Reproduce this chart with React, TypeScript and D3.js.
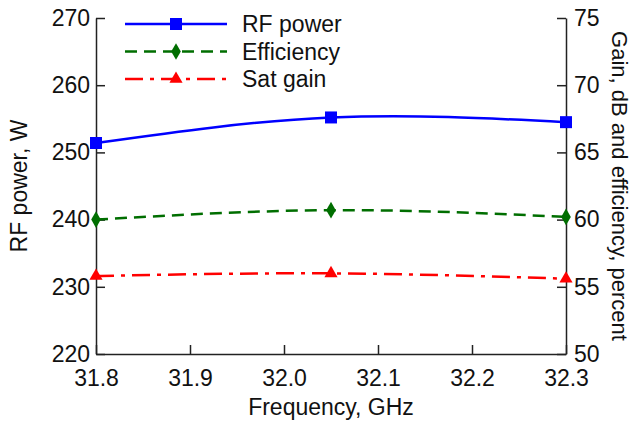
import React, { useEffect, useRef } from "react";
import * as d3 from "d3";

const freq = [31.8, 32.05, 32.3];
const rfPower = [251.4, 255.2, 254.5];
const efficiency = [60.0, 60.7, 60.2];
const satGain = [55.8, 56.0, 55.6];
const xTicks = [31.8, 31.9, 32.0, 32.1, 32.2, 32.3];
const leftTicks = [220, 230, 240, 250, 260, 270];
const rightTicks = [50, 55, 60, 65, 70, 75];

const App = () => {
  const ref = useRef<SVGSVGElement | null>(null);

  useEffect(() => {
    if (!ref.current) return;
    const svg = d3.select(ref.current);
    svg.selectAll("*").remove();

    const margin = { top: 18, right: 67, bottom: 69, left: 96 };
    const width = 633;
    const height = 423;
    const fs = 23;

    const x = d3.scaleLinear().domain([31.8, 32.3]).range([margin.left, width - margin.right]);
    const yL = d3.scaleLinear().domain([220, 270]).range([height - margin.bottom, margin.top]);
    const yR = d3.scaleLinear().domain([50, 75]).range([height - margin.bottom, margin.top]);

    const font = "Liberation Sans, Arial, sans-serif";
    const axisColor = "#222";

    // axes, ticks pointing inward
    const bx = svg.append("g")
      .attr("transform", `translate(0, ${height - margin.bottom})`)
      .call(d3.axisBottom(x).tickValues(xTicks).tickSize(-9).tickPadding(16).tickSizeOuter(0).tickFormat(d3.format(".1f")));
    const ly = svg.append("g")
      .attr("transform", `translate(${margin.left}, 0)`)
      .call(d3.axisLeft(yL).tickValues(leftTicks).tickSize(-9).tickPadding(6).tickSizeOuter(0));
    const ry = svg.append("g")
      .attr("transform", `translate(${width - margin.right}, 0)`)
      .call(d3.axisRight(yR).tickValues(rightTicks).tickSize(-9).tickPadding(8).tickSizeOuter(0));

    [bx, ly, ry].forEach((a) => {
      a.select(".domain").attr("stroke", axisColor).attr("stroke-width", 1.5);
      a.selectAll(".tick line").attr("stroke", axisColor).attr("stroke-width", 1.5);
      a.selectAll(".tick text").attr("font-family", font).attr("font-size", fs).attr("fill", "#111");
    });

    // axis titles
    const midY = (margin.top + height - margin.bottom) / 2;
    svg.append("text")
      .attr("x", (margin.left + width - margin.right) / 2)
      .attr("y", 415)
      .attr("text-anchor", "middle")
      .attr("font-family", font)
      .attr("font-size", fs)
      .attr("fill", "#111")
      .text("Frequency, GHz");
    svg.append("text")
      .attr("transform", `translate(27, ${midY}) rotate(-90)`)
      .attr("text-anchor", "middle")
      .attr("font-family", font)
      .attr("font-size", fs)
      .attr("fill", "#111")
      .text("RF power, W");
    svg.append("text")
      .attr("transform", `translate(612, ${midY}) rotate(90)`)
      .attr("text-anchor", "middle")
      .attr("font-family", font)
      .attr("font-size", 22)
      .attr("fill", "#111")
      .text("Gain, dB and efficiency, percent");

    const series = [
      { name: "RF power", values: rfPower, y: yL, color: "#0000ff", dash: "none", marker: d3.symbolSquare, size: 144 },
      { name: "Efficiency", values: efficiency, y: yR, color: "#006e00", dash: "12,7", marker: d3.symbolDiamond, size: 80 },
      { name: "Sat gain", values: satGain, y: yR, color: "#ff0000", dash: "18,7,4,7", marker: d3.symbolTriangle, size: 75 },
    ];

    series.forEach((s) => {
      const pts: [number, number][] = freq.map((f, i) => [x(f), s.y(s.values[i])]);
      svg.append("path")
        .attr("d", d3.line().curve(d3.curveNatural)(pts))
        .attr("fill", "none")
        .attr("stroke", s.color)
        .attr("stroke-width", 2.5)
        .attr("stroke-dasharray", s.dash);
      svg.selectAll(null)
        .data(pts)
        .enter()
        .append("path")
        .attr("d", d3.symbol().type(s.marker).size(s.size))
        .attr("transform", (d) => `translate(${d[0]}, ${d[1]})`)
        .attr("fill", s.color);
    });

    // legend
    const legend = svg.append("g");
    series.forEach((s, i) => {
      const yy = 24 + i * 27.5;
      legend.append("line")
        .attr("x1", 125).attr("x2", 227).attr("y1", yy).attr("y2", yy)
        .attr("stroke", s.color).attr("stroke-width", 2.5).attr("stroke-dasharray", s.dash);
      legend.append("path")
        .attr("d", d3.symbol().type(s.marker).size(s.size))
        .attr("transform", `translate(176, ${yy})`)
        .attr("fill", s.color);
      legend.append("text")
        .attr("x", 242).attr("y", yy + 8)
        .attr("font-family", font).attr("font-size", fs)
        .attr("fill", "#111")
        .text(s.name);
    });
  }, []);

  return <svg ref={ref} width={633} height={423} style={{ display: "block", position: "absolute", left: 0, top: 0, background: "#fff" }} />;
};

export default App;
